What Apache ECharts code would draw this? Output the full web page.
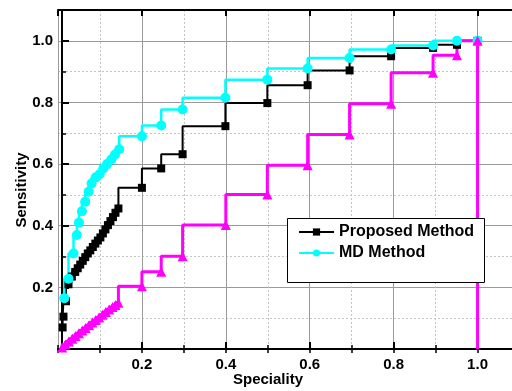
<!DOCTYPE html>
<html>
<head>
<meta charset="utf-8">
<script src="https://cdn.jsdelivr.net/npm/echarts@6/dist/echarts.min.js"></script>
<style>
  html, body { margin: 0; padding: 0; background: #fff; }
  #chart { width: 512px; height: 391px; }
</style>
</head>
<body>
<div id="chart"></div>
<script>
// Proposed Method (black squares)
var propX = [0.011, 0.013, 0.019, 0.025, 0.033, 0.041, 0.047, 0.053, 0.059, 0.065, 0.071, 0.077, 0.083, 0.089, 0.095, 0.101, 0.107, 0.113, 0.119, 0.125, 0.131, 0.137, 0.144, 0.2, 0.246, 0.297, 0.399, 0.499, 0.595, 0.695, 0.794, 0.894, 0.951, 1.0];
var propY = [0.07, 0.105, 0.155, 0.21, 0.235, 0.25, 0.262, 0.274, 0.286, 0.298, 0.31, 0.32, 0.331, 0.342, 0.352, 0.362, 0.375, 0.388, 0.402, 0.415, 0.428, 0.442, 0.456, 0.523, 0.586, 0.632, 0.723, 0.798, 0.856, 0.904, 0.95, 0.977, 0.987, 1.0];
// MD Method (cyan circles)
var mdX = [0.015, 0.025, 0.037, 0.045, 0.05, 0.057, 0.065, 0.073, 0.08, 0.09, 0.099, 0.108, 0.117, 0.127, 0.136, 0.146, 0.2, 0.246, 0.297, 0.399, 0.499, 0.595, 0.695, 0.794, 0.894, 0.951, 1.0];
var mdY = [0.165, 0.228, 0.31, 0.37, 0.41, 0.447, 0.478, 0.51, 0.537, 0.557, 0.567, 0.586, 0.6, 0.615, 0.631, 0.648, 0.69, 0.725, 0.777, 0.815, 0.874, 0.91, 0.944, 0.972, 0.985, 1.0, 1.0];
// third curve (magenta triangles, not in legend)
var refX = [0.01, 0.018, 0.026, 0.034, 0.042, 0.05, 0.058, 0.066, 0.074, 0.082, 0.09, 0.098, 0.106, 0.114, 0.122, 0.13, 0.137, 0.144, 0.2, 0.246, 0.297, 0.4, 0.499, 0.595, 0.695, 0.794, 0.894, 0.951, 1.0, 1.0];
var refY = [0.005, 0.015, 0.024, 0.033, 0.042, 0.051, 0.06, 0.068, 0.077, 0.086, 0.094, 0.102, 0.111, 0.12, 0.128, 0.136, 0.143, 0.15, 0.204, 0.251, 0.301, 0.402, 0.501, 0.596, 0.696, 0.796, 0.896, 0.953, 1.0, 0];

var legendNames = ['Proposed Method', 'MD Method'];
var FONT = '"Liberation Sans", Arial, sans-serif';

function pairs(xs, ys) {
    return xs.map(function (x, i) { return [x, ys[i]]; });
}

var myChart = echarts.init(document.getElementById('chart'));

var labelStyle = {
    color: '#000', fontFamily: FONT, fontWeight: 'bold', fontSize: 15,
    showMinLabel: false, showMaxLabel: false,
    formatter: function (v) { return v.toFixed(1); }
};

myChart.setOption({
    animation: false,
    grid: { left: 58, top: 10, width: 461.5, height: 339, outerBoundsMode: 'none', containLabel: false },
    xAxis: [
        { // minor grid, bottom
            type: 'value', min: 0, max: 1.1, interval: 0.1, position: 'bottom',
            axisLine: { show: false },
            axisTick: { inside: true, length: 4, lineStyle: { color: '#000', width: 1.5 } },
            axisLabel: { show: false },
            splitLine: { show: true, lineStyle: { color: '#c4c4c4', type: [2, 2], width: 1 } }
        },
        { // minor ticks, top
            type: 'value', min: 0, max: 1.1, interval: 0.1, position: 'top',
            axisLine: { show: false },
            axisTick: { inside: true, length: 4, lineStyle: { color: '#000', width: 1.5 } },
            axisLabel: { show: false },
            splitLine: { show: false }
        },
        { // major, top border
            type: 'value', min: 0, max: 1.1, interval: 0.2, position: 'top',
            axisLine: { show: true, lineStyle: { color: '#000', width: 2 } },
            axisTick: { inside: true, length: 6, lineStyle: { color: '#000', width: 2 } },
            axisLabel: { show: false },
            splitLine: { show: false }
        },
        { // major, bottom with labels
            type: 'value', min: 0, max: 1.1, interval: 0.2, position: 'bottom',
            axisLine: { show: true, lineStyle: { color: '#000', width: 2 } },
            axisTick: { inside: true, length: 7, lineStyle: { color: '#000', width: 2 } },
            axisLabel: Object.assign({ margin: 8 }, labelStyle),
            splitLine: { show: true, lineStyle: { color: '#9a9a9a', width: 1 } }
        }
    ],
    yAxis: [
        {
            type: 'value', min: 0, max: 1.1, interval: 0.1, position: 'left', offset: -4,
            axisLine: { show: false },
            axisTick: { inside: true, length: 4, lineStyle: { color: '#000', width: 1.5 } },
            axisLabel: { show: false },
            splitLine: { show: true, lineStyle: { color: '#c4c4c4', type: [2, 2], width: 1 } }
        },
        {
            type: 'value', min: 0, max: 1.1, interval: 0.2, position: 'left', offset: -4,
            axisLine: { show: true, lineStyle: { color: '#000', width: 2 } },
            axisTick: { inside: true, length: 7, lineStyle: { color: '#000', width: 2 } },
            axisLabel: Object.assign({ margin: 9 }, labelStyle),
            splitLine: { show: true, lineStyle: { color: '#9a9a9a', width: 1 } }
        }
    ],
    legend: {
        data: legendNames,
        orient: 'vertical',
        left: 298, top: 224,
        itemWidth: 35, itemHeight: 9, itemGap: 5,
        padding: 0,
        textStyle: { color: '#000', fontFamily: FONT, fontWeight: 'bold', fontSize: 16 },
        z: 5
    },
    graphic: [
        {
            type: 'rect', z: 4,
            shape: { x: 287.5, y: 218.5, width: 197, height: 64 },
            style: { fill: '#fff', stroke: '#000', lineWidth: 1 }
        },
        {
            type: 'text', x: 22, y: 190, rotation: Math.PI / 2,
            style: { text: 'Sensitivity', font: 'bold 15px ' + FONT, textAlign: 'center', textVerticalAlign: 'middle', fill: '#000' }
        },
        {
            type: 'text', x: 268, y: 380,
            style: { text: 'Speciality', font: 'bold 15px ' + FONT, textAlign: 'center', textVerticalAlign: 'middle', fill: '#000' }
        }
    ],
    series: [
        {
            name: 'Proposed Method', type: 'line', step: 'start',
            xAxisIndex: 3, yAxisIndex: 1,
            data: pairs(propX, propY),
            symbol: 'rect', symbolSize: 8,
            itemStyle: { color: '#000' },
            lineStyle: { color: '#000', width: 2 }
        },
        {
            name: 'MD Method', type: 'line', step: 'start',
            xAxisIndex: 3, yAxisIndex: 1,
            data: pairs(mdX, mdY),
            symbol: 'circle', symbolSize: 10,
            itemStyle: { color: '#00ffff' },
            lineStyle: { color: '#00ffff', width: 2.5 }
        },
        {
            name: 'Random', type: 'line', step: 'start',
            xAxisIndex: 3, yAxisIndex: 1,
            data: pairs(refX, refY).map(function (p) {
                return p[1] === 0 ? { value: p, symbol: 'none' } : p;
            }),
            symbol: 'triangle', symbolSize: 10,
            itemStyle: { color: '#ff00ff' },
            lineStyle: { color: '#ff00ff', width: 3 }
        }
    ]
});
</script>
</body>
</html>
